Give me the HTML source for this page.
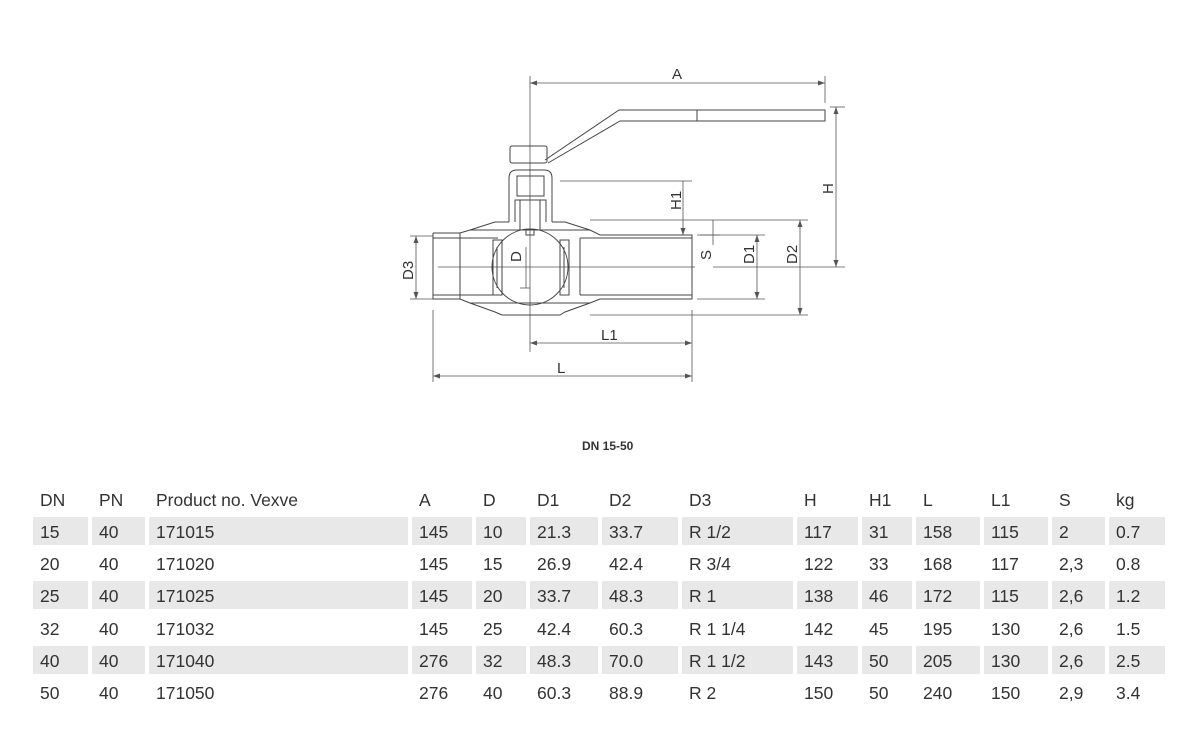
<!DOCTYPE html>
<html><head><meta charset="utf-8"><style>
body{margin:0;width:1200px;height:750px;background:#fff;position:relative;overflow:hidden;font-family:"Liberation Sans",sans-serif;color:#333}
svg{position:absolute;left:0;top:0}
.c{position:absolute;height:28px;line-height:30px;font-size:17.5px;padding-left:7px;box-sizing:border-box}
.s{background:#e8e8e8}
</style></head><body>
<svg width="1200" height="750" viewBox="0 0 1200 750" fill="none" stroke="#444" stroke-width="1">
<g stroke="#555" stroke-width="0.8">
<line x1="530" y1="76" x2="530" y2="352"/><line x1="825" y1="76" x2="825" y2="103"/>
<line x1="530" y1="83" x2="825" y2="83"/>
<line x1="830" y1="107" x2="845" y2="107"/><line x1="836" y1="107" x2="836" y2="267"/>
<line x1="560" y1="181" x2="692" y2="181"/><line x1="683" y1="181" x2="683" y2="235"/>
<line x1="590" y1="220" x2="808" y2="220"/><line x1="590" y1="315" x2="808" y2="315"/>
<line x1="800" y1="220" x2="800" y2="315"/>
<line x1="697" y1="235" x2="765" y2="235"/><line x1="697" y1="299" x2="765" y2="299"/>
<line x1="757" y1="235" x2="757" y2="299"/>
<line x1="713" y1="220" x2="713" y2="245"/><line x1="700" y1="235" x2="720" y2="235"/>
<line x1="713" y1="267" x2="845" y2="267"/>
<line x1="410" y1="236" x2="433" y2="236"/><line x1="410" y1="299" x2="433" y2="299"/>
<line x1="416" y1="236" x2="416" y2="299"/>
<line x1="433" y1="310" x2="433" y2="382"/><line x1="692" y1="310" x2="692" y2="382"/>
<line x1="530" y1="343" x2="692" y2="343"/><line x1="433" y1="376" x2="692" y2="376"/>
<line x1="526" y1="247" x2="526" y2="288"/><line x1="520" y1="288" x2="530" y2="288"/>
<line x1="438" y1="267" x2="695" y2="267"/>
</g>
<g fill="#555" stroke="none">
<path d="M530 83 l7 -2.5 v5z"/><path d="M825 83 l-7 -2.5 v5z"/>
<path d="M836 107 l-2.5 7 h5z"/><path d="M836 267 l-2.5 -7 h5z"/>
<path d="M683 235 l-2.5 -7 h5z"/>
<path d="M800 220 l-2.5 7 h5z"/><path d="M800 315 l-2.5 -7 h5z"/>
<path d="M757 235 l-2.5 7 h5z"/><path d="M757 299 l-2.5 -7 h5z"/>
<path d="M416 236 l-2.5 7 h5z"/><path d="M416 299 l-2.5 -7 h5z"/>
<path d="M530 343 l7 -2.5 v5z"/><path d="M692 343 l-7 -2.5 v5z"/>
<path d="M433 376 l7 -2.5 v5z"/><path d="M692 376 l-7 -2.5 v5z"/>
</g>
<path d="M545 160 L619 110 H825 V121 H620 L548 163"/>
<line x1="697" y1="110" x2="697" y2="121"/>
<rect x="510" y="146" width="37" height="17" rx="2"/>
<path d="M509 222 V178 Q509 170 517 170 H544 Q552 170 552 178 V222"/>
<path d="M515 222 V200 H546 V222"/><rect x="517" y="176" width="27" height="20"/>
<path d="M520 200 V230 H540 V200"/><rect x="526" y="230" width="8" height="5"/>
<path d="M433 233 H460 L470 230 L495 222 H509"/>
<path d="M552 222 H565 L590 230 L600 235 H692 V299 H600 L590 303 L565 312 L560 315 H502 L495 312 L470 303 L460 299 H433 V233"/>
<path d="M460 233 V299 M460 238 H498 M460 295 H498 M580 238 H692 M580 295 H692 M580 238 V295"/>
<path d="M433 238 H460 M433 295 H460"/>
<circle cx="530" cy="267" r="38"/>
<rect x="493" y="240" width="9" height="55"/><rect x="560" y="240" width="9" height="55"/>
<line x1="497" y1="247" x2="497" y2="288"/><line x1="564" y1="247" x2="564" y2="288"/>
<line x1="470" y1="303" x2="590" y2="303"/><line x1="470" y1="230" x2="590" y2="230"/>
<g fill="#333" stroke="none" font-family="Liberation Sans" font-size="15">
<text x="672" y="79">A</text>
<text x="601" y="340">L1</text>
<text x="557" y="373">L</text>
<text transform="translate(681,210) rotate(-90)">H1</text>
<text transform="translate(833,194) rotate(-90)">H</text>
<text transform="translate(711,260) rotate(-90)">S</text>
<text transform="translate(754,264) rotate(-90)">D1</text>
<text transform="translate(797,264) rotate(-90)">D2</text>
<text transform="translate(413,280) rotate(-90)">D3</text>
<text transform="translate(521,262) rotate(-90)">D</text>
<text x="582" y="450" font-size="12" font-weight="bold">DN 15-50</text>
</g>
</svg>
<div id="t"></div>
<script>
var cols=[[33,88],[92,145],[149,408],[412,472],[476,526],[530,598],[602,678],[682,793],[797,858],[862,912],[916,980],[984,1048],[1052,1105],[1109,1165]];
var rows=[["DN","PN","Product no. Vexve","A","D","D1","D2","D3","H","H1","L","L1","S","kg"],
["15","40","171015","145","10","21.3","33.7","R 1/2","117","31","158","115","2","0.7"],
["20","40","171020","145","15","26.9","42.4","R 3/4","122","33","168","117","2,3","0.8"],
["25","40","171025","145","20","33.7","48.3","R 1","138","46","172","115","2,6","1.2"],
["32","40","171032","145","25","42.4","60.3","R 1 1/4","142","45","195","130","2,6","1.5"],
["40","40","171040","276","32","48.3","70.0","R 1 1/2","143","50","205","130","2,6","2.5"],
["50","40","171050","276","40","60.3","88.9","R 2","150","50","240","150","2,9","3.4"]];
var h="";
rows.forEach(function(r,i){var y=i==0?485:517+(i-1)*32.2;var sh=(i%2==1);
r.forEach(function(v,j){h+='<div class="c'+(sh?' s':'')+'" style="left:'+cols[j][0]+'px;top:'+y+'px;width:'+(cols[j][1]-cols[j][0])+'px">'+v+'</div>';});});
document.getElementById("t").innerHTML=h;
</script>
</body></html>
